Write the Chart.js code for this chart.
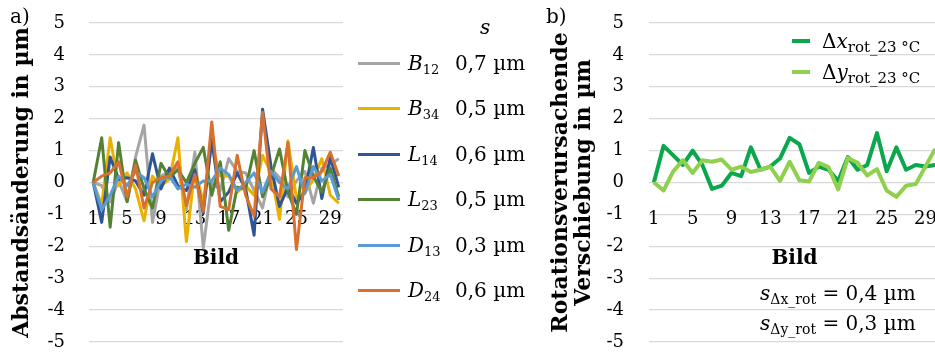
<!DOCTYPE html>
<html>
<head>
<meta charset="utf-8">
<script src="https://cdn.jsdelivr.net/npm/chart.js@4"></script>
<style>
  html, body { margin: 0; padding: 0; background: #fff; overflow: hidden; }
  body { width: 935px; height: 357px; position: relative; font-family: "DejaVu Serif", serif; color: #000; }
  .box { position: absolute; top: 0; height: 357px; }
  #boxA { left: 0; width: 350px; }
  #boxB { left: 540px; width: 410px; }
  .tag { position: absolute; top: 4px; font-size: 20px; }
  .lrow { position: absolute; left: 358px; height: 28px; width: 180px; font-size: 20px; line-height: 28px; white-space: nowrap; }
  .lrow .sw { position: absolute; left: 0; top: 13px; width: 42px; height: 3px; }
  .lrow .nm { position: absolute; left: 50px; top: 0; }
  .lrow .sv { position: absolute; left: 97px; top: 0; }
  sub { font-size: 13px; vertical-align: -4px; line-height: 0; }
  .brow { position: absolute; left: 792px; height: 28px; font-size: 20px; line-height: 28px; white-space: nowrap; }
  .brow .sw { position: absolute; left: 0; top: 12px; width: 18px; height: 4px; }
  .brow .tx { position: absolute; left: 30px; top: 0; }
  .brow sub { font-size: 15px; }
  .note { position: absolute; left: 760px; font-size: 20px; line-height: 28px; white-space: nowrap; }
  .note sub { font-size: 14px; }
</style>
</head>
<body>
<div class="box" id="boxA"><canvas id="chartA"></canvas></div>
<div class="box" id="boxB"><canvas id="chartB"></canvas></div>
<div class="tag" style="left:10px">a)</div>
<div class="tag" style="left:546px">b)</div>
<div class="lrow" style="top:13px"><span class="nm" style="left:122px"><i>s</i></span></div>
<div id="legendA"></div>
<div id="legendB"></div>
<div class="note" style="top:279px"><i>s</i><sub>Δx_rot</sub> = 0,4 µm</div>
<div class="note" style="top:309px"><i>s</i><sub>Δy_rot</sub> = 0,3 µm</div>
<script>
// Bildnummern (Kategorien)
const bilder = ['1','2','3','4','5','6','7','8','9','10','11','12','13','14','15',
                '16','17','18','19','20','21','22','23','24','25','26','27','28','29','30'];

// a) Abstandsänderung in µm
const B12 = [0, -0.1, -0.6, 0.05, -0.6, 0.8, 1.8, -1.25, 0.2, 0.35, 0.45, -0.85, 0.95, -2.05, 0.0, -0.25, 0.75, 0.35, 0.3, -0.25, -0.8, 0.45, 0.15, -0.45, 0.05, 0.35, -0.65, 0.45, 0.55, 0.75];
const B34 = [0, -0.7, 1.4, -0.1, 0.3, -0.2, -1.2, 0.2, -0.1, 0.1, 1.4, -1.85, 0.4, -0.6, 1.2, 0.2, 0.2, -0.3, -0.1, -0.4, 0.85, 0.3, -1.15, 1.3, -0.5, -0.3, 0.1, 0.75, -0.4, -0.65];
const L14 = [0, -1.25, 0.8, 0.1, 0.15, 0.05, -0.4, 0.9, -0.2, 0.45, -0.1, -0.25, 0.4, -0.95, 1.35, -0.6, -0.3, 0.3, -0.2, -1.65, 2.3, 0.5, -0.75, -0.15, -0.65, -0.3, 1.1, -0.5, 0.8, -0.15];
const L23 = [0, 1.4, -1.4, 1.25, -0.6, 0.7, -0.2, -0.8, 0.6, 0.15, 0.4, 0.0, 0.6, 1.1, -0.4, 0.65, -1.5, -0.15, -0.2, 1.0, -0.45, 0.2, 1.05, -0.3, -1.0, 1.0, 0.2, -0.3, 0.45, -0.45];
const D13 = [0, -0.85, -0.4, 0.2, -0.1, 0.35, 0.15, -0.45, 0.05, 0.2, -0.2, -0.05, -0.15, 0.05, 0.05, 0.45, 0.25, -0.25, 0.0, 0.3, -0.3, 0.35, 0.0, -0.2, 0.5, -0.35, 0.5, 0.05, 0.25, -0.55];
const D24 = [0, 0.2, 0.3, 0.65, -0.45, 0.55, -0.8, 0.0, 0.15, 0.2, 0.65, -0.72, 0.25, -0.9, 1.9, -0.75, -0.85, 0.85, -0.4, -1.05, 2.2, -0.2, -0.45, 1.25, -2.1, 0.15, 0.15, 0.35, 0.95, 0.2];

// b) Rotationsverursachende Verschiebung in µm
const dxRot = [0, 1.15, 0.85, 0.55, 1.0, 0.55, -0.2, -0.1, 0.3, 0.2, 1.1, 0.4, 0.5, 0.75, 1.4, 1.2, 0.3, 0.5, 0.4, 0.05, 0.8, 0.4, 0.55, 1.55, 0.35, 1.1, 0.4, 0.55, 0.5, 0.55];
const dyRot = [0, -0.25, 0.35, 0.7, 0.3, 0.7, 0.65, 0.72, 0.4, 0.5, 0.33, 0.4, 0.5, 0.05, 0.65, 0.07, 0.03, 0.62, 0.48, -0.22, 0.77, 0.62, 0.22, 0.42, -0.25, -0.45, -0.1, -0.05, 0.5, 1.05];

const seriesA = [B12, B34, L14, L23, D13, D24];
const namesA = ['B', 'B', 'L', 'L', 'D', 'D'];
const subsA = ['12', '34', '14', '23', '13', '24'];
const sValuesA = ['0,7 µm', '0,5 µm', '0,6 µm', '0,5 µm', '0,3 µm', '0,6 µm'];
const colorsA = ['#a5a5a5', '#e9b100', '#2f5597', '#548235', '#5b9bd5', '#d9712e'];

const seriesB = [dxRot, dyRot];
const namesB = ['x', 'y'];
const colorsB = ['#0aa74c', '#8fd14f'];

const yTicks = { min: -5, max: 5, step: 1 };
const FONT = '"DejaVu Serif", serif';
const CLEAR = 'rgba(0,0,0,0)';

function makeOptions(yTitle, axisWidth, titlePad, tickGap, layoutPad) {
  return {
    responsive: true,
    maintainAspectRatio: false,
    animation: false,
    layout: { padding: layoutPad },
    plugins: { legend: { display: false }, tooltip: { enabled: false } },
    scales: {
      x: {
        type: 'category',
        position: { y: 0 },
        offset: true,
        grid: { display: false, drawTicks: true, tickLength: 24, tickColor: CLEAR },
        border: { display: false },
        ticks: {
          autoSkip: false, maxRotation: 0, padding: 2, color: '#000',
          font: { family: FONT, size: 18 },
          callback: function(v, i) { return i % 4 === 0 ? bilder[i] : ''; }
        },
        title: { display: true, text: 'Bild', color: '#000', padding: { top: 15, bottom: 0 },
                 font: { family: FONT, size: 20, weight: 'bold' } }
      },
      y: {
        min: yTicks.min, max: yTicks.max,
        afterFit: function(s) { s.width = axisWidth; },
        grid: { color: '#d9d9d9', lineWidth: 1.3, drawTicks: true, tickLength: tickGap, tickColor: CLEAR },
        border: { display: false },
        ticks: { stepSize: yTicks.step, padding: 0, color: '#000', font: { family: FONT, size: 18 } },
        title: { display: true, text: yTitle, color: '#000', padding: { top: titlePad, bottom: 0 },
                 font: { family: FONT, size: 22, weight: 'bold', lineHeight: 1.05 } }
      }
    }
  };
}

function init() {
  if (typeof Chart === 'undefined') return;

  new Chart(document.getElementById('chartA'), {
    type: 'line',
    data: {
      labels: bilder,
      datasets: seriesA.map(function(d, i) {
        return {
          label: namesA[i] + subsA[i], data: d, borderColor: colorsA[i],
          borderWidth: 3, pointRadius: 0, tension: 0, fill: false,
          borderJoinStyle: 'round', order: seriesA.length - i
        };
      })
    },
    options: makeOptions('Abstandsänderung in µm', 89, 11, 24, { left: 0, right: 7, top: 23, bottom: 15 })
  });

  new Chart(document.getElementById('chartB'), {
    type: 'line',
    data: {
      labels: bilder,
      datasets: seriesB.map(function(d, i) {
        return {
          label: 'Δ' + namesB[i], data: d, borderColor: colorsB[i],
          borderWidth: 4, pointRadius: 0, tension: 0, fill: false,
          borderJoinStyle: 'round', order: seriesB.length - i
        };
      })
    },
    options: makeOptions(['Rotationsverursachende', 'Verschiebung in µm'], 109, 10, 25, { left: 0, right: 10, top: 23, bottom: 15 })
  });

  // Legende a)
  const legA = document.getElementById('legendA');
  seriesA.forEach(function(d, i) {
    const row = document.createElement('div');
    row.className = 'lrow';
    row.style.top = (63 + i * 45.4 - 14) + 'px';
    row.innerHTML = '<span class="sw" style="background:' + colorsA[i] + '"></span>' +
      '<span class="nm"><i>' + namesA[i] + '</i><sub>' + subsA[i] + '</sub></span>' +
      '<span class="sv">' + sValuesA[i] + '</span>';
    legA.appendChild(row);
  });

  // Legende b)
  const legB = document.getElementById('legendB');
  seriesB.forEach(function(d, i) {
    const row = document.createElement('div');
    row.className = 'brow';
    row.style.top = (41 + i * 31 - 14) + 'px';
    row.innerHTML = '<span class="sw" style="background:' + colorsB[i] + '"></span>' +
      '<span class="tx">Δ<i>' + namesB[i] + '</i><sub>rot_23 °C</sub></span>';
    legB.appendChild(row);
  });
}

document.addEventListener('DOMContentLoaded', init);
</script>
</body>
</html>
